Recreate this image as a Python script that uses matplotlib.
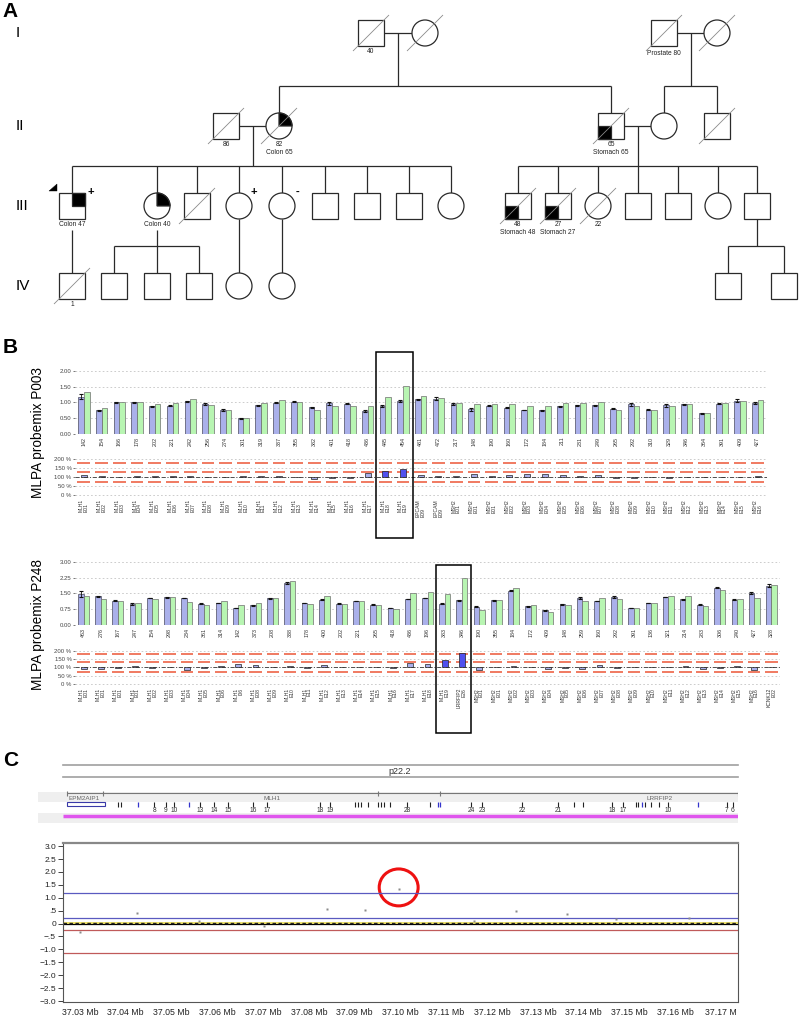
import numpy as np
import matplotlib
matplotlib.use("Agg")
import matplotlib.pyplot as plt
from matplotlib.patches import Rectangle, Circle, Wedge, Ellipse, Polygon
from matplotlib.transforms import blended_transform_factory

plt.rcParams['font.family'] = ['Liberation Sans', 'DejaVu Sans']
plt.rcParams['lines.scale_dashes'] = False

# ======================= DATA =======================
# ---- Panel A: pedigree ----
generations = ["I", "II", "III", "IV"]
ped_id = ["I1", "I2", "I3", "I4",
          "II1", "II2", "II3", "II4", "II5",
          "III1", "III2", "III3", "III4", "III5", "III6", "III7", "III8", "III9",
          "III10", "III11", "III12", "III13", "III14", "III15", "III16",
          "IV1", "IV2", "IV3", "IV4", "IV5", "IV6", "IV7", "IV8"]
ped_sex = ["M", "F", "M", "F",
           "M", "F", "M", "F", "M",
           "M", "F", "M", "F", "F", "M", "M", "M", "F",
           "M", "M", "F", "M", "M", "F", "M",
           "M", "M", "M", "M", "F", "F", "M", "M"]
ped_deceased = ["I1", "I2", "I3", "I4", "II1", "II2", "II3", "II5",
                "III3", "III10", "III11", "III12", "IV1"]
ped_affected = {"II2": "TR", "III1": "TR", "III2": "TR",
                "II3": "BL", "III10": "BL", "III11": "BL"}
ped_notes = {"I1": "40", "I3": "Prostate 80", "II1": "86", "II2": "82\nColon 65",
             "II3": "65\nStomach 65", "III1": "Colon 47", "III2": "Colon 40",
             "III10": "48\nStomach 48", "III11": "27\nStomach 27", "III12": "22", "IV1": "1"}
ped_carrier = {"III1": "+", "III4": "+", "III5": "-"}
ped_proband = "III1"
couples = [("I1", "I2"), ("I3", "I4"), ("II1", "II2"), ("II3", "II4")]
offspring = [(("I1", "I2"), ["II2", "II3"]),
             (("I3", "I4"), ["II4", "II5"]),
             (("II1", "II2"), ["III1", "III2", "III3", "III4", "III5", "III6", "III7", "III8", "III9"]),
             (("II3", "II4"), ["III10", "III11", "III12", "III13", "III14", "III15", "III16"]),
             (("III1",), ["IV1"]),
             (("III2",), ["IV2", "IV3", "IV4"]),
             (("III4",), ["IV5"]),
             (("III5",), ["IV6"]),
             (("III16",), ["IV7", "IV8"])]

# ---- Panel B: MLPA probemix P003 ----
p003_probe_nt = [142, 154, 166, 178, 202, 221, 242, 256, 274, 301, 319, 337, 355, 382, 401, 418, 436,
                 445, 454, 481, 472, 217, 148, 190, 160, 172, 184, 211, 231, 249, 265, 292, 310, 329,
                 346, 364, 391, 409, 427]
p003_gene = ["MLH1"] * 19 + ["EPCAM"] * 2 + ["MSH2"] * 18
p003_exon = ["E01", "E02", "E03", "E04", "E05", "E06", "E07", "E08", "E09", "E10", "E11", "E12",
             "E13", "E14", "E15", "E16", "E17", "E18", "E19", "E09", "E09",
             "E01", "E01", "E01", "E02", "E03", "E04", "E05", "E06", "E07", "E08", "E09", "E10",
             "E11", "E12", "E13", "E14", "E15", "E16"]
p003_reference = [1.19, 0.75, 1.00, 1.00, 0.88, 0.90, 1.04, 0.96, 0.76, 0.50, 0.91, 0.99, 1.03,
                  0.85, 0.97, 0.96, 0.74, 0.89, 1.06, 1.10, 1.12, 0.95, 0.79, 0.90, 0.84, 0.76,
                  0.75, 0.88, 0.91, 0.91, 0.80, 0.94, 0.77, 0.91, 0.94, 0.66, 0.96, 1.06, 0.99]
p003_sample = [1.34, 0.81, 1.00, 1.03, 0.94, 0.97, 1.10, 0.93, 0.75, 0.52, 0.97, 1.07, 1.03,
               0.75, 0.89, 0.89, 0.89, 1.17, 1.53, 1.20, 1.15, 0.98, 0.94, 0.94, 0.94, 0.88,
               0.88, 0.97, 0.97, 1.01, 0.75, 0.90, 0.75, 0.88, 0.94, 0.66, 0.97, 1.04, 1.07]
p003_reference_sd = [0.07, 0.01, 0.02, 0.02, 0.02, 0.01, 0.01, 0.03, 0.03, 0.02, 0.02, 0.02, 0.03,
                     0.01, 0.06, 0.02, 0.03, 0.02, 0.03, 0.01, 0.04, 0.02, 0.05, 0.02, 0.03, 0.01,
                     0.01, 0.01, 0.01, 0.02, 0.02, 0.05, 0.02, 0.05, 0.02, 0.02, 0.02, 0.06, 0.04]
p003_boxed = [445, 454]

# ---- Panel B: MLPA probemix P248 ----
p248_probe_nt = [463, 276, 167, 247, 154, 298, 234, 361, 314, 142, 373, 208, 338, 178, 400, 202, 221,
                 265, 418, 436, 196, 383, 346, 190, 355, 184, 172, 409, 148, 259, 160, 292, 391, 136,
                 321, 214, 283, 306, 240, 427, 328]
p248_gene = ["MLH1"] * 22 + ["LRRFIP2"] + ["MSH2"] * 17 + ["KCNK12"]
p248_exon = ["E01", "E01", "E01", "E01", "E02", "E03", "E04", "E05", "E06", "I06", "E08", "E09",
             "E10", "E11", "E12", "E13", "E14", "E15", "E16", "E17", "E18", "E19", "E26",
             "E01", "E01", "E02", "E03", "E04", "E05", "E06", "E07", "E08", "E09", "E10", "E11",
             "E12", "E13", "E14", "E15", "E16", "E02"]
p248_reference = [1.48, 1.37, 1.16, 0.99, 1.28, 1.31, 1.28, 1.02, 1.05, 0.80, 0.93, 1.28, 1.99, 1.04,
                  1.21, 1.02, 1.13, 0.97, 0.81, 1.23, 1.29, 1.02, 1.18, 0.88, 1.18, 1.64, 0.89, 0.70,
                  0.99, 1.28, 1.15, 1.32, 0.80, 1.04, 1.34, 1.23, 0.97, 1.77, 1.20, 1.52, 1.88]
p248_sample = [1.37, 1.23, 1.12, 1.04, 1.23, 1.31, 1.10, 0.96, 1.12, 0.94, 1.05, 1.28, 2.09, 0.99,
               1.36, 1.02, 1.13, 0.97, 0.77, 1.53, 1.55, 1.48, 2.23, 0.73, 1.21, 1.74, 0.93, 0.64,
               0.93, 1.16, 1.28, 1.23, 0.83, 1.07, 1.40, 1.36, 0.89, 1.67, 1.26, 1.29, 1.90]
p248_reference_sd = [0.15, 0.02, 0.01, 0.05, 0.01, 0.02, 0.01, 0.02, 0.02, 0.01, 0.02, 0.02, 0.06,
                     0.01, 0.02, 0.01, 0.01, 0.03, 0.02, 0.01, 0.01, 0.01, 0.02, 0.01, 0.02, 0.02,
                     0.01, 0.01, 0.02, 0.04, 0.01, 0.04, 0.01, 0.01, 0.01, 0.02, 0.01, 0.03, 0.02,
                     0.05, 0.06]
p248_boxed = [383, 346]

ratio_ticks = [0, 50, 100, 150, 200]
ratio_thresholds = [180, 130, 73]

# ---- Panel C: array CGH track ----
cyto_band = "p22.2"
gene_names = ["EPM2AIP1", "MLH1", "LRRFIP2"]
gene_label_mb = [37.0276, 37.0719, 37.1566]
gene_boundary_mb = [37.0272, 37.0350, 37.0951, 37.1086]
epm2aip1_span_mb = [37.0272, 37.0355]
exon_numbered_mb = [37.0462, 37.0488, 37.0505, 37.0562, 37.0593, 37.0623, 37.0678, 37.0708,
                    37.0824, 37.0846, 37.1014, 37.1154, 37.1178, 37.1265, 37.1344, 37.1462,
                    37.1486, 37.1584, 37.1713, 37.1726]
exon_numbers = ["8", "9", "10", "13", "14", "15", "16", "17", "18", "19", "28", "24", "23",
                "22", "21", "18", "17", "10", "7", "6"]
exon_unlabelled_mb = [37.0383, 37.0390, 37.0900, 37.0907, 37.0914, 37.0929, 37.0951, 37.0958,
                      37.0964, 37.0977, 37.1064, 37.1379, 37.1398, 37.1514, 37.1518, 37.1534,
                      37.1547, 37.1564]
exon_blue_mb = [37.0427, 37.0538, 37.1082, 37.1086, 37.1527, 37.1649]

probe_mb = [37.0300, 37.0424, 37.0560, 37.0701, 37.0839, 37.0923, 37.0996, 37.1160,
            37.1253, 37.1364, 37.1470, 37.1631]
probe_log2 = [-0.32, 0.42, 0.09, -0.09, 0.56, 0.53, 1.32, 0.10, 0.48, 0.38, 0.16, 0.20]
gain_thresholds = [1.17, 0.21]
loss_thresholds = [-0.25, -1.13]
baseline_mean = 0.04
highlight_mb, highlight_val = 37.0996, 1.40
x_ticks_mb = [37.03, 37.04, 37.05, 37.06, 37.07, 37.08, 37.09, 37.10, 37.11, 37.12,
              37.13, 37.14, 37.15, 37.16, 37.17]
x_tick_labels = ["37.03 Mb", "37.04 Mb", "37.05 Mb", "37.06 Mb", "37.07 Mb", "37.08 Mb",
                 "37.09 Mb", "37.10 Mb", "37.11 Mb", "37.12 Mb", "37.13 Mb", "37.14 Mb",
                 "37.15 Mb", "37.16 Mb", "37.17 M"]
y_ticks_c = [-3.0, -2.5, -2.0, -1.5, -1.0, -0.5, 0, 0.5, 1.0, 1.5, 2.0, 2.5, 3.0]
y_tick_labels_c = ["\u22123.0", "\u22122.5", "\u22122.0", "\u22121.5", "\u22121.0", "\u2212.5",
                   "0", ".5", "1.0", "1.5", "2.0", "2.5", "3.0"]

# ======================= LAYOUT / STYLE =======================
W, H = 800, 1019
fig = plt.figure(figsize=(W / 100, H / 100), dpi=100)


def box(x0, y0, x1, y1):
    return [x0 / W, 1 - y1 / H, (x1 - x0) / W, (y1 - y0) / H]


bg = fig.add_axes([0, 0, 1, 1], zorder=0)
bg.set_xlim(0, W); bg.set_ylim(H, 0); bg.axis('off'); bg.patch.set_alpha(0)

# panel letters
for letter, (lx, ly) in zip("ABC", [(2, 2), (3, 338), (3, 751)]):
    bg.text(lx, ly, letter, fontsize=15, fontweight='bold', va='top', ha='left')

# ---------------- Panel A ----------------
LINE = '#2a2a2a'
LW = 0.9
S = 13
gen_y = {"I": 33, "II": 126, "III": 206, "IV": 286}
ped_x = {"I1": 371, "I2": 425, "I3": 664, "I4": 717,
         "II1": 226, "II2": 279, "II3": 611, "II4": 664, "II5": 717,
         "III1": 72, "III2": 157, "III3": 197, "III4": 239, "III5": 282, "III6": 325,
         "III7": 367, "III8": 409, "III9": 451, "III10": 518, "III11": 558, "III12": 598,
         "III13": 638, "III14": 678, "III15": 718, "III16": 757,
         "IV1": 72, "IV2": 114, "IV3": 157, "IV4": 199, "IV5": 239, "IV6": 282,
         "IV7": 728, "IV8": 784}
sex_of = dict(zip(ped_id, ped_sex))


def gen_of(pid):
    return ''.join(c for c in pid if not c.isdigit())


def pos(pid):
    return ped_x[pid], gen_y[gen_of(pid)]


def seg(x0, y0, x1, y1, **kw):
    bg.plot([x0, x1], [y0, y1], color=kw.get('color', LINE), lw=kw.get('lw', LW),
            zorder=kw.get('zorder', 2), solid_capstyle='butt')


for g in generations:
    bg.text(16, gen_y[g], g, fontsize=11, va='center', ha='left')

for a, b in couples:
    xa, ya = pos(a); xb, yb = pos(b)
    seg(xa + S, ya, xb - S, yb)

for parents, kids in offspring:
    kx = [ped_x[k] for k in kids]
    ky = gen_y[gen_of(kids[0])]
    sib_y = ky - S - 27
    if len(parents) == 2:
        px = (ped_x[parents[0]] + ped_x[parents[1]]) / 2
        py = gen_y[gen_of(parents[0])]
    else:
        px, py = pos(parents[0])
        py = py + S + (11 if parents[0] in ped_notes else 0)
    if len(kids) == 1 and kx[0] == px:
        seg(px, py, px, ky - S)
        continue
    seg(px, py, px, sib_y)
    seg(min(kx), sib_y, max(kx), sib_y)
    for k in kx:
        seg(k, sib_y, k, ky - S)

for pid in ped_id:
    x, y = pos(pid)
    if sex_of[pid] == "M":
        bg.add_patch(Rectangle((x - S, y - S), 2 * S, 2 * S, fc='white', ec=LINE, lw=LW, zorder=3))
    else:
        bg.add_patch(Circle((x, y), S, fc='white', ec=LINE, lw=LW, zorder=3))
    q = ped_affected.get(pid)
    if q:
        if sex_of[pid] == "M":
            xy = (x, y - S) if q == "TR" else (x - S, y)
            bg.add_patch(Rectangle(xy, S, S, fc='black', ec=LINE, lw=LW, zorder=4))
        else:
            bg.add_patch(Wedge((x, y), S, 270, 360, fc='black', ec=LINE, lw=LW, zorder=4))
    if pid in ped_deceased:
        seg(x - S - 5, y + S + 5, x + S + 5, y - S - 5, color='#8a8a8a', lw=0.6, zorder=5)
    if pid in ped_notes:
        for k, line in enumerate(ped_notes[pid].split("\n")):
            bg.text(x, y + S + 5 + 8 * k + (2 if pid == "I3" else 0),
                    line, fontsize=4.8, ha='center', va='center', color='#222')
    if pid in ped_carrier:
        dx = S + 6 if sex_of[pid] == "M" else S + 2
        bg.text(x + dx, y - S - 1, ped_carrier[pid], fontsize=8, fontweight='bold',
                ha='center', va='center')
    if pid == ped_proband:
        bg.add_patch(Polygon([(x - 23, y - 15), (x - 15, y - 15), (x - 15, y - 22)],
                             closed=True, fc='black', ec='black', lw=0.3, zorder=4))

# ---------------- Panel B ----------------
fg = fig.add_axes([0, 0, 1, 1], zorder=20)
fg.set_xlim(0, W); fg.set_ylim(H, 0); fg.axis('off'); fg.patch.set_alpha(0)

BLUE = "#aab0ea"
GREEN = "#b8f5b2"
BRIGHT = "#5050ee"
RED = "#ee6347"
GRID = '#c4c4c4'


def mlpa(bar_box, ratio_box, ylim_bar, yticks, ylim_ratio, sizes, genes, exons, ref, sample, sd,
         boxed, box_y, align, ylabel, ylabel_pos):
    n = len(sizes)
    x = np.arange(n)
    w = 0.32
    ax = fig.add_axes(box(*bar_box))
    ax.set_facecolor('none')
    for v in yticks[1:]:
        ax.axhline(v, color=GRID, ls=(0, (1.2, 1.6)), lw=0.6, zorder=1)
    ax.bar(x - w / 2, ref, w, color=BLUE, edgecolor='#4a4a5e', linewidth=0.5, zorder=3)
    ax.bar(x + w / 2, sample, w, color=GREEN, edgecolor='#6e6e6e', linewidth=0.5, zorder=3)
    ax.errorbar(x - w / 2, ref, yerr=sd, fmt='none', ecolor='#111111', elinewidth=0.6,
                capsize=1.4, capthick=0.8, zorder=4)
    ax.axhline(0, color='#444444', ls=(0, (2, 1.5)), lw=0.7, zorder=5)
    ax.set_xlim(-0.5, n - 0.5)
    ax.set_ylim(*ylim_bar)
    ax.set_yticks(yticks)
    ax.set_yticklabels([f"{v:.2f}" for v in yticks])
    ax.set_xticks(x)
    ax.set_xticklabels([str(s) for s in sizes], rotation=90, fontsize=3.9, color='#333')
    ax.tick_params(axis='x', length=0, pad=2)
    ax.tick_params(axis='y', length=1.5, width=0.5, pad=1, labelsize=4.3, colors='#444')
    for s in ax.spines.values():
        s.set_visible(False)

    r = fig.add_axes(box(*ratio_box))
    r.set_facecolor('none')
    ratio = np.array(sample) / np.array(ref) * 100
    cols = [BRIGHT if abs(q - 100) >= 30 else BLUE for q in ratio]
    for v in (0, 50, 150, 200):
        r.axhline(v, color=GRID, ls=(0, (1.2, 1.6)), lw=0.6, zorder=1)
    for t in ratio_thresholds:
        r.hlines(np.full(n, t), x - 0.36, x + 0.36, colors=RED, lw=1.2, zorder=2)
    r.bar(x, ratio - 100, 0.34, bottom=100, color=cols, edgecolor='#222', linewidth=0.5, zorder=3)
    r.axhline(100, color='#333', ls=(0, (3, 1.2, 0.8, 1.2)), lw=0.6, zorder=4)
    r.set_xlim(-0.5, n - 0.5)
    r.set_ylim(*ylim_ratio)
    r.set_yticks(ratio_ticks)
    r.set_yticklabels([f"{v} %" for v in ratio_ticks])
    r.set_xticks(x)
    r.set_xticklabels([f"{g}\n{e}" for g, e in zip(genes, exons)], rotation=90, fontsize=3.6,
                      linespacing=0.95, multialignment=align, color='#333')
    r.tick_params(axis='x', length=0, pad=1.5)
    r.tick_params(axis='y', length=1.5, width=0.5, pad=1, labelsize=4.3, colors='#444')
    for s in r.spines.values():
        s.set_visible(False)

    i0 = sizes.index(boxed[0]); i1 = sizes.index(boxed[-1])
    tr = blended_transform_factory(ax.transData, fg.transData)
    fg.add_patch(Rectangle((i0 - 0.52, box_y[0]), (i1 - i0) + 1.06, box_y[1] - box_y[0],
                           transform=tr, fill=False, ec='black', lw=1.1, clip_on=False))
    bg.text(ylabel_pos[0], ylabel_pos[1], ylabel, rotation=90, fontsize=9.8,
            ha='center', va='center')


mlpa((75, 365, 766.5, 434), (75, 456, 766.5, 497), (0, 2.19), [0, 0.5, 1.0, 1.5, 2.0], (-13, 218),
     p003_probe_nt, p003_gene, p003_exon, p003_reference, p003_sample, p003_reference_sd,
     p003_boxed, (352, 538), 'left', "MLPA probemix P003", (38, 432))
mlpa((75, 558, 780, 625), (75, 648, 780, 686), (0, 3.19), [0, 0.75, 1.5, 2.25, 3.0], (-12, 216),
     p248_probe_nt, p248_gene, p248_exon, p248_reference, p248_sample, p248_reference_sd,
     p248_boxed, (565, 733), 'right', "MLPA probemix P248", (38, 625))

# ---------------- Panel C ----------------
XLIM_C = (37.0263, 37.1737)

bg.plot([63, 738], [765, 765], color='#a0a0a0', lw=1.2)
bg.plot([63, 738], [777, 777], color='#a0a0a0', lw=1.2)
bg.text(400, 771.5, cyto_band, fontsize=6.5, ha='center', va='center', color='#333')
bg.add_patch(Rectangle((38, 792), 700, 10, fc='#efefef', ec='none'))
bg.add_patch(Rectangle((38, 813), 700, 10, fc='#efefef', ec='none'))

trk = fig.add_axes(box(63, 758, 738, 826))
trk.set_xlim(*XLIM_C); trk.set_ylim(826, 758); trk.axis('off'); trk.patch.set_alpha(0)
trk.hlines(793, gene_boundary_mb[0], XLIM_C[1], color='#777', lw=0.8)
trk.vlines(gene_boundary_mb + [XLIM_C[1]], 791, 795.5, color='#777', lw=0.8)
trk.text(gene_label_mb[0], 798, gene_names[0], fontsize=4.6, ha='left', va='center', color='#666')
for name, gx in zip(gene_names[1:], gene_label_mb[1:]):
    trk.text(gx, 798, name, fontsize=4.6, ha='center', va='center', color='#666')
trk.add_patch(Rectangle((epm2aip1_span_mb[0], 802), epm2aip1_span_mb[1] - epm2aip1_span_mb[0], 4,
                        fill=False, ec='#3a3aa8', lw=0.8))
trk.vlines(exon_numbered_mb + exon_unlabelled_mb, 802, 806.5, color='#222', lw=0.8)
trk.vlines(exon_blue_mb, 802, 806.5, color='#3434cc', lw=0.9)
for ex, lab in zip(exon_numbered_mb, exon_numbers):
    trk.text(ex, 810, lab, fontsize=4.8, ha='center', va='center', color='#333')
trk.hlines(816, XLIM_C[0], XLIM_C[1], color='#e055ee', lw=2.5)

axc = fig.add_axes(box(63, 843, 738, 1002.3))
axc.set_facecolor('none')
axc.set_xlim(*XLIM_C)
axc.set_ylim(-3.05, 3.12)
for t in gain_thresholds:
    axc.axhline(t, color='#5a5ac0', lw=0.9)
for t in loss_thresholds:
    axc.axhline(t, color='#c05a5a', lw=0.9)
axc.axhline(0, color='black', lw=0.9)
axc.axhline(baseline_mean, color='#e8d840', lw=1.1)
axc.axhline(baseline_mean, color='#222', lw=1.0, ls=(0, (2.5, 1.8)))
axc.plot(probe_mb, probe_log2, 's', ms=1.8, color='#8a8a8a', mec='none')
axc.add_patch(Ellipse((highlight_mb, highlight_val), 0.0085, 1.43, fill=False, ec='#ee1111', lw=2.2))
axc.set_yticks(y_ticks_c)
axc.set_yticklabels(y_tick_labels_c)
axc.set_xticks(x_ticks_mb)
axc.set_xticklabels(x_tick_labels)
axc.tick_params(axis='y', length=3.5, width=0.6, pad=1.5, labelsize=6, colors='#222')
axc.tick_params(axis='x', length=0, pad=4, labelsize=6.3, colors='#222')
for s in axc.spines.values():
    s.set_color('#555'); s.set_linewidth(0.8)
axc.spines['top'].set_color('#888'); axc.spines['top'].set_linewidth(1.6)

fig.savefig("out.png", dpi=100)
